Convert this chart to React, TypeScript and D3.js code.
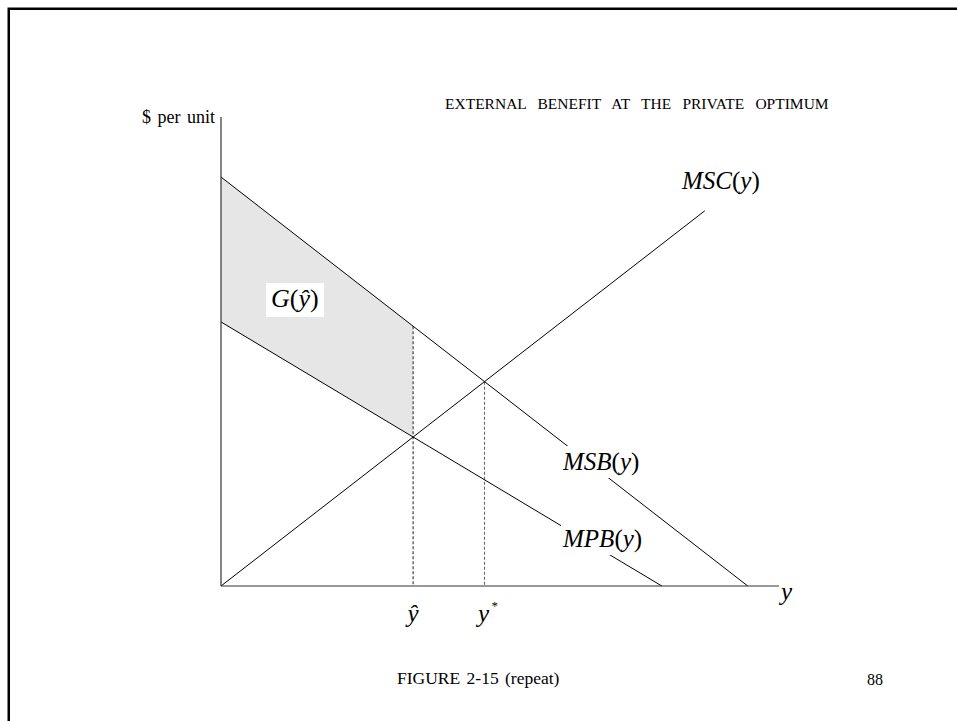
import React from "react";
import * as d3 from "d3";

// Economic curves (quantity q, price p) in chart units
const msbLine: [number, number][] = [[0, 8.72], [9.44, 0]];
const mpbLine: [number, number][] = [[0, 5.63], [7.9, 0]];
const mscLine: [number, number][] = [[0, 0], [8.67, 8.0]];
const xDomain: [number, number] = [0, 10];
const yDomain: [number, number] = [0, 10];

const titleText = "EXTERNAL BENEFIT AT THE PRIVATE OPTIMUM";
const yAxisLabel = "$ per unit";
const footerText = "FIGURE 2-15 (repeat)";
const pageNumber = "88";
const curveNames = ["MSB", "MPB", "MSC"];

function lineAt(l: [number, number][], q: number) {
  const [[x0, y0], [x1, y1]] = l;
  return y0 + ((y1 - y0) * (q - x0)) / (x1 - x0);
}
function intersect(a: [number, number][], b: [number, number][]) {
  const sa = (a[1][1] - a[0][1]) / (a[1][0] - a[0][0]);
  const sb = (b[1][1] - b[0][1]) / (b[1][0] - b[0][0]);
  const ia = a[0][1] - sa * a[0][0];
  const ib = b[0][1] - sb * b[0][0];
  const q = (ib - ia) / (sa - sb);
  return [q, ia + sa * q];
}

const serif = "'Liberation Serif', 'Times New Roman', Times, serif";

function FnLabel({ x, y, name, size = 25 }: { x: number; y: number; name: string; size?: number }) {
  return (
    <text x={x} y={y} fontFamily={serif} fontSize={size}>
      <tspan fontStyle="italic">{name}</tspan>
      <tspan>(</tspan>
      <tspan fontStyle="italic">y</tspan>
      <tspan>)</tspan>
    </text>
  );
}

export default function App() {
  const W = 957, H = 721;
  const x = d3.scaleLinear().domain(xDomain).range([221, 779]);
  const y = d3.scaleLinear().domain(yDomain).range([586, 117]);
  const line = d3.line<[number, number]>().x((d) => x(d[0])).y((d) => y(d[1]));

  const [qHat] = intersect(mpbLine, mscLine);
  const [qStar, pStar] = intersect(msbLine, mscLine);
  const pHatMSB = lineAt(msbLine, qHat);
  const pHatMPB = lineAt(mpbLine, qHat);

  const shade: [number, number][] = [
    [0, msbLine[0][1]],
    [qHat, pHatMSB],
    [qHat, pHatMPB],
    [0, mpbLine[0][1]],
  ];

  const italic = { fontFamily: serif, fontStyle: "italic" as const, fontSize: 25 };

  const labelBox = (lx: number, base: number, w: number) => (
    <rect x={lx - 2} y={base - 24} width={w + 4} height={32} fill="#fff" />
  );

  return (
    <svg
      width={W}
      height={H}
      style={{ position: "fixed", left: 0, top: 0, background: "#fff" }}
    >
      <rect x={0} y={0} width={W} height={H} fill="#fff" />
      <rect x={8.75} y={8.75} width={W + 20} height={H + 20} fill="none" stroke="#000" strokeWidth={2.5} />

      {/* shaded area */}
      <path d={(line(shade) || "") + "Z"} fill="#e6e6e6" stroke="none" />

      {/* dashed verticals */}
      <line x1={x(qHat)} x2={x(qHat)} y1={y(pHatMSB)} y2={y(0)} stroke="#333" strokeWidth={1.1} strokeDasharray="3,2" />
      <line x1={x(qStar)} x2={x(qStar)} y1={y(pStar)} y2={y(0)} stroke="#666" strokeWidth={1.1} strokeDasharray="3,2" />

      {/* curves */}
      <path d={line(msbLine) || ""} fill="none" stroke="#000" strokeWidth={1} />
      <path d={line(mpbLine) || ""} fill="none" stroke="#000" strokeWidth={1} />
      <path d={line(mscLine) || ""} fill="none" stroke="#000" strokeWidth={1} />

      {/* axes */}
      <line x1={x(0)} x2={x(0)} y1={y(yDomain[1])} y2={y(0)} stroke="#333" strokeWidth={1.2} />
      <line x1={x(0)} x2={x(xDomain[1])} y1={y(0)} y2={y(0)} stroke="#333" strokeWidth={1.2} />

      {/* curve labels with white boxes breaking lines */}
      {labelBox(563, 470, 77)}
      <FnLabel x={563} y={470} name={curveNames[0]} />
      {labelBox(563, 547, 80)}
      <FnLabel x={563} y={547} name={curveNames[1]} />
      <FnLabel x={682} y={189} name={curveNames[2]} />

      <rect x={266} y={283} width={58} height={34} fill="#fff" />
      <text x={271} y={307} fontFamily={serif} fontSize={26}>
        <tspan fontStyle="italic">G</tspan>(<tspan fontStyle="italic">ŷ</tspan>)
      </text>

      {/* axis labels */}
      <text x={781} y={600} {...italic}>y</text>
      <text x={x(qHat)} y={622} textAnchor="middle" {...italic}>ŷ</text>
      <text x={x(qStar) - 1} y={622} textAnchor="middle" {...italic}>y</text>
      <text x={x(qStar) + 7} y={610} fontFamily={serif} fontSize={13}>*</text>

      <text x={215} y={123} textAnchor="end" fontFamily={serif} fontSize={18} style={{ wordSpacing: "2px" }}>
        {yAxisLabel}
      </text>
      <text x={445} y={109} fontFamily={serif} fontSize={15.5} style={{ wordSpacing: "7.4px" }}>
        {titleText}
      </text>
      <text x={397} y={684} fontFamily={serif} fontSize={17.5} style={{ wordSpacing: "2px" }}>
        {footerText}
      </text>
      <text x={867} y={685} fontFamily={serif} fontSize={16}>
        {pageNumber}
      </text>
    </svg>
  );
}
